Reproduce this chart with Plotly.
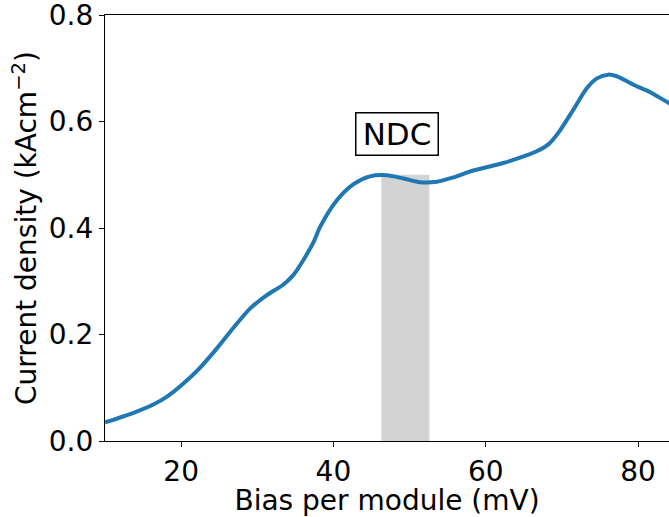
import plotly.graph_objects as go

# Data
bias_mv = [10.0, 13.75, 16.4, 18.1, 20.3, 22.5, 24.7, 26.9, 29.07, 31.26, 33.44, 34.75,
           36.06, 37.4, 38.25, 40.45, 42.6, 44.8, 47.0, 49.2, 51.4, 53.6, 55.75, 57.9,
           60.1, 62.3, 64.5, 66.7, 68.3, 69.6, 71.5, 73.25, 74.6, 76.1, 77.2, 79.4,
           81.6, 84.0, 85.0]
current_density = [0.035, 0.053, 0.069, 0.083, 0.108, 0.138, 0.174, 0.213, 0.249, 0.274,
                   0.294, 0.312, 0.340, 0.374, 0.402, 0.452, 0.482, 0.497, 0.499, 0.493,
                   0.486, 0.487, 0.495, 0.506, 0.514, 0.522, 0.532, 0.544, 0.558, 0.580,
                   0.622, 0.662, 0.681, 0.688, 0.685, 0.669, 0.655, 0.635, 0.627]

ndc_start = 46.3
ndc_end = 52.6
ndc_height = 0.5
ndc_label = "NDC"
ndc_label_pos = (48.36, 0.5765)

x_ticks = [20, 40, 60, 80]
y_ticks = [0.0, 0.2, 0.4, 0.6, 0.8]

FONT = "DejaVu Sans"

fig = go.Figure()
fig.add_trace(go.Scatter(
    x=[ndc_start, ndc_end, ndc_end, ndc_start, ndc_start],
    y=[0, 0, ndc_height, ndc_height, 0],
    fill="toself", fillcolor="#d3d3d3", line=dict(width=0),
    mode="lines", hoverinfo="skip", showlegend=False,
))
fig.add_trace(go.Scatter(
    x=bias_mv, y=current_density, mode="lines",
    line=dict(color="#1f77b4", width=4, shape="spline", smoothing=0.8),
    showlegend=False,
))

fig.add_annotation(
    x=ndc_label_pos[0], y=ndc_label_pos[1], text=ndc_label, showarrow=False,
    font=dict(family=FONT, size=31, color="black"),
    width=75, height=35, align="center", valign="middle",
    bordercolor="black", borderwidth=1.5, borderpad=3, bgcolor="white",
)

fig.update_layout(
    width=669, height=517,
    margin=dict(l=105, r=0, t=15, b=76),
    paper_bgcolor="white", plot_bgcolor="white",
    font=dict(family=FONT, size=28, color="black"),
    xaxis=dict(
        range=[10, 84.07], tickvals=x_ticks, ticks="outside", ticklen=5, tickwidth=1.3,
        tickcolor="black", showline=True, linecolor="black", linewidth=1.3, mirror=True,
        showgrid=False, zeroline=False, automargin=False, ticklabeloverflow="allow",
        title=dict(text="Bias per module (mV)", standoff=5, font=dict(size=28)),
        tickfont=dict(size=28),
    ),
    yaxis=dict(
        range=[0, 0.80001], tickvals=y_ticks, tickformat=".1f", ticks="outside", ticklen=5,
        tickwidth=1.3, tickcolor="black", showline=True, linecolor="black", linewidth=1.3,
        showgrid=False, zeroline=False, automargin=False, ticklabeloverflow="allow",
        title=dict(text="Current density (kAcm<sup>−2</sup>)", standoff=3, font=dict(size=28)),
        tickfont=dict(size=28),
    ),
)

fig.write_html(
    "out.html",
    config={"displayModeBar": False},
    post_script="document.body.style.margin='0px';document.body.style.overflow='hidden';",
)
